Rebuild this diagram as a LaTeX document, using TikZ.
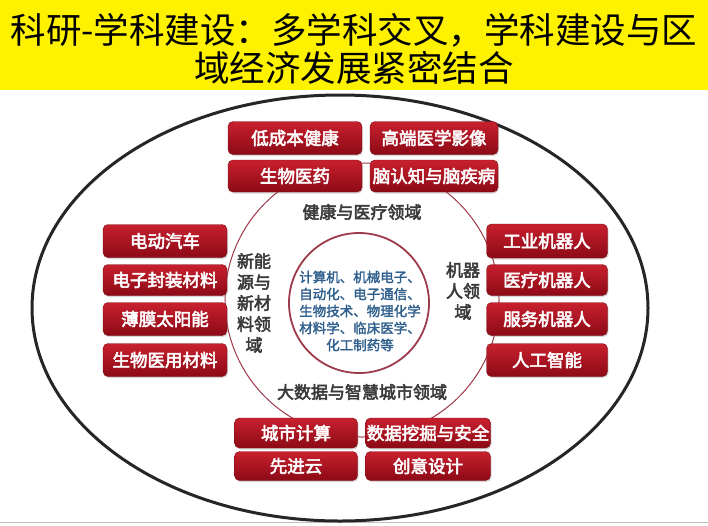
\documentclass[tikz,border=0pt]{standalone}
\usepackage{fontspec}
\newfontfamily\cjk{Noto Sans CJK SC}
\newfontfamily\cjkb{Noto Sans CJK SC}[FakeBold=3]
\newfontfamily\cjkm{Noto Sans CJK SC}[FakeBold=2]
\usetikzlibrary{shadows}
\definecolor{boxtop}{HTML}{C8202E}
\definecolor{boxbot}{HTML}{8C0A16}
\definecolor{boxedge}{HTML}{7A0A12}
\definecolor{ringred}{HTML}{9E3A4A}
\definecolor{coreblue}{HTML}{2F5F8C}
\definecolor{labelgray}{HTML}{3A3A3A}
\tikzset{
  redbox/.style={rounded corners=5pt, minimum height=32pt, inner sep=0pt,
    top color=boxtop, bottom color=boxbot, draw=boxedge, line width=0.4pt,
    text=white, font=\cjkb\fontsize{17.5}{17.5}\selectfont,
    drop shadow={shadow xshift=1pt, shadow yshift=-1.5pt, opacity=0.3}},
  fieldlabel/.style={text=labelgray, font=\cjkb\fontsize{17}{21}\selectfont, align=center, inner sep=0pt},
  core/.style={text=coreblue, font=\cjkm\fontsize{13.5}{17}\selectfont, align=center, inner sep=0pt},
  titletext/.style={font=\cjk\fontsize{35.5}{38}\selectfont, text=black, inner sep=0pt}
}
\begin{document}
\begin{tikzpicture}[x=1pt,y=-1pt]
\useasboundingbox (0,0) rectangle (708,525);
\fill[white] (0,0) rectangle (708,525);
% title band
\fill[yellow] (0,0) rectangle (708,90);
\node[titletext] (t1) at (354,30) {科研-学科建设：多学科交叉，学科建设与区};
\node[titletext] (t2) at (354,68) {域经济发展紧密结合};
\draw[gray!50, line width=1pt] (0,522) -- (708,522);
% outer ellipse
\draw[line width=3pt, black!85] (340,308) ellipse [x radius=308, y radius=213];
% red ring
\draw[ringred, line width=1pt] (362,300) circle [radius=137];
% inner circle
\draw[ringred, line width=1.8pt, fill=white] (359,303) circle [radius=70];
\node[core] (core) at (360,311) {计算机、机械电子、\\自动化、电子通信、\\生物技术、物理化学\\材料学、临床医学、\\化工制药等};
% top boxes
\node[redbox, minimum width=134pt, minimum height=33pt] (b1) at (295,138) {低成本健康};
\node[redbox, minimum width=128pt, minimum height=33pt] (b2) at (434,138) {高端医学影像};
\node[redbox, minimum width=134pt] (b3) at (295,176) {生物医药};
\node[redbox, minimum width=128pt] (b4) at (434,176) {脑认知与脑疾病};
\node[fieldlabel] (d1) at (362,212) {健康与医疗领域};
% left boxes
\node[redbox, minimum width=124pt, minimum height=33pt] (l1) at (165,241) {电动汽车};
\node[redbox, minimum width=124pt, minimum height=31pt] (l2) at (165,280) {电子封装材料};
\node[redbox, minimum width=124pt, minimum height=33pt] (l3) at (165,319) {薄膜太阳能};
\node[redbox, minimum width=124pt, minimum height=33pt] (l4) at (165,360) {生物医用材料};
\node[fieldlabel] (d2) at (254,303) {新能\\源与\\新材\\料领\\域};
% right boxes
\node[redbox, minimum width=121pt, minimum height=34pt] (r1) at (547,241) {工业机器人};
\node[redbox, minimum width=121pt, minimum height=31pt] (r2) at (547,280) {医疗机器人};
\node[redbox, minimum width=121pt, minimum height=33pt] (r3) at (547,319) {服务机器人};
\node[redbox, minimum width=121pt, minimum height=33pt] (r4) at (547,360) {人工智能};
\node[fieldlabel] (d3) at (463,291) {机器\\人领\\域};
% bottom boxes
\node[fieldlabel] (d4) at (362,392) {大数据与智慧城市领域};
\node[redbox, minimum width=123pt, minimum height=30pt] (u1) at (296,433) {城市计算};
\node[redbox, minimum width=125pt, minimum height=30pt] (u2) at (428,433) {数据挖掘与安全};
\node[redbox, minimum width=123pt, minimum height=29pt] (u3) at (296,466) {先进云};
\node[redbox, minimum width=125pt, minimum height=29pt] (u4) at (428,466) {创意设计};
\end{tikzpicture}
\end{document}
